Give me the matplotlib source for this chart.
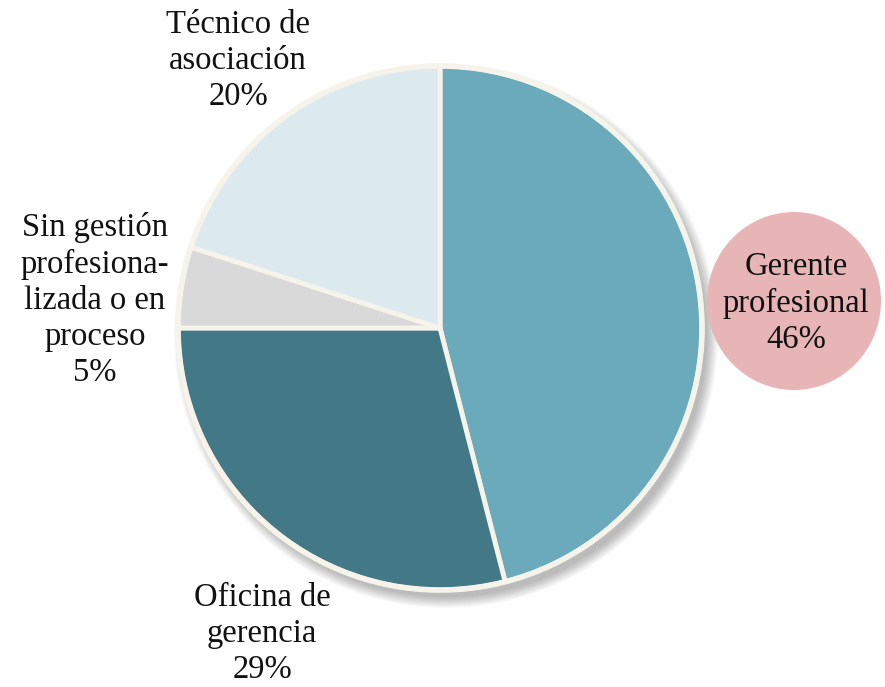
import numpy as np
import matplotlib.pyplot as plt
from matplotlib.patches import Circle, Ellipse

plt.rcParams["font.family"] = ["Liberation Serif", "DejaVu Serif"]

labels = ["Gerente\nprofesional", "Oficina de\ngerencia",
          "Sin gestión\nprofesiona-\nlizada o en\nproceso", "Técnico de\nasociación"]
shares = [46, 29, 5, 20]
colors = ["#6aaabb", "#437886", "#d9d9d9", "#dce9ee"]

W, H = 885, 687
cx, cy, R = 440, H - 328, 262

fig = plt.figure(figsize=(W / 100, H / 100), dpi=100)
ax = fig.add_axes([0, 0, 1, 1])

# soft drop shadow
for k in range(12):
    ax.add_patch(Circle((cx + 6, cy - 8), R + 10 - k, facecolor="black",
                        edgecolor="none", alpha=0.025, zorder=1))

wedges, _ = ax.pie(shares, colors=colors, startangle=90, counterclock=False,
                   center=(cx, cy), radius=R, frame=True,
                   wedgeprops=dict(edgecolor="#f5f3ea", linewidth=3.5))
for w in wedges:
    w.set_zorder(2)
ax.add_patch(Circle((cx, cy), R, facecolor="none", edgecolor="#f5f3ea",
                    linewidth=4, zorder=3))
ax.set_xlim(0, W)
ax.set_ylim(0, H)
ax.set_aspect("equal")
ax.axis("off")

# highlighted label
ax.add_patch(Ellipse((794, H - 301), 174, 178, facecolor="#e8b5b6",
                     edgecolor="none", zorder=4))

pos = [(796, H - 303), (262, H - 634), (95, H - 300), (238, H - 61)]
for lab, s, (x, y) in zip(labels, shares, pos):
    ax.text(x, y, f"{lab}\n{s}%", ha="center", va="center", fontsize=23.5,
            color="#111111", linespacing=1.24, zorder=5)

fig.savefig("out.png", dpi=100)
